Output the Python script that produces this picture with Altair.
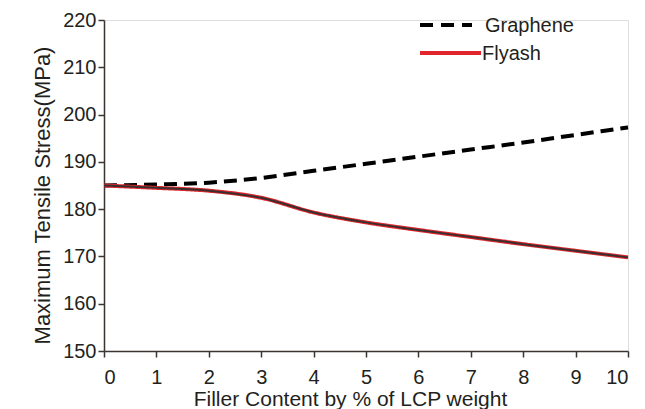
import altair as alt
import pandas as pd

filler = [0, 1, 2, 3, 4, 5, 6, 7, 8, 9, 10]
graphene = [185.0, 185.2, 185.6, 186.6, 188.1, 189.6, 191.1, 192.6, 194.1, 195.7, 197.3]
flyash = [185.0, 184.5, 183.9, 182.4, 179.3, 177.2, 175.6, 174.1, 172.6, 171.2, 169.8]
series = ["Graphene", "Flyash"]
y_ticks = [150, 160, 170, 180, 190, 200, 210, 220]

rows = []
for name, vals in zip(series, [graphene, flyash]):
    for x, y in zip(filler, vals):
        rows.append({"x": x, "y": y, "series": name})
df = pd.DataFrame(rows)

FONT = "Liberation Sans"
AXC = "#3a3530"
TXT = "#231f20"
RED = "#e0262c"

xenc = alt.X("x:Q", scale=alt.Scale(domain=[0, 10], nice=False),
             axis=alt.Axis(title="Filler Content by % of LCP weight", values=filler,
                           format="d", grid=False, domainColor=AXC, tickColor=AXC,
                           tickSize=6, domainWidth=1.5, tickWidth=1.5,
                           labelFontSize=20, labelColor=TXT, labelPadding=10,
                           titleFontSize=21, titleFontWeight="normal", titleColor=TXT,
                           titleX=246, titleY=54, titleAlign="center",
                           titleBaseline="alphabetic"))
yenc = alt.Y("y:Q", scale=alt.Scale(domain=[150, 220], nice=False),
             axis=alt.Axis(title="Maximum Tensile Stress(MPa)", values=y_ticks,
                           grid=False, domainColor=AXC, tickColor=AXC,
                           tickSize=6, domainWidth=1.5, tickWidth=1.5,
                           labelFontSize=20, labelColor=TXT, labelPadding=2,
                           titleFontSize=22, titleFontWeight="normal", titleColor=TXT,
                           titleX=-62, titleY=175, titleAngle=270, titleAlign="center",
                           titleBaseline="middle"))

lines = alt.Chart(df).mark_line(interpolate="monotone", strokeWidth=4).encode(
    x=xenc, y=yenc,
    color=alt.Color("series:N", scale=alt.Scale(domain=series, range=["#000000", RED]),
                    legend=None),
    strokeDash=alt.StrokeDash("series:N", scale=alt.Scale(domain=series, range=[[13, 7], [1, 0]]),
                              legend=None),
)

core = alt.Chart(df[df.series == "Flyash"]).mark_line(
    interpolate="monotone", strokeWidth=2, color="#3a2f2f"
).encode(x="x:Q", y="y:Q")

one = pd.DataFrame({"k": [0]})
leg_dash = alt.Chart(one).mark_rule(color="#000000", strokeWidth=4, strokeDash=[13, 8]).encode(
    x=alt.value(316), x2=alt.value(368), y=alt.value(5))
leg_red = alt.Chart(one).mark_rule(color=RED, strokeWidth=4).encode(
    x=alt.value(316), x2=alt.value(377), y=alt.value(33))
leg_text1 = alt.Chart(pd.DataFrame({"label": [series[0]]})).mark_text(
    align="left", baseline="alphabetic", fontSize=20, font=FONT, color=TXT).encode(
    text="label:N", x=alt.value(381), y=alt.value(12))
leg_text2 = alt.Chart(pd.DataFrame({"label": [series[1]]})).mark_text(
    align="left", baseline="alphabetic", fontSize=20, font=FONT, color=TXT).encode(
    text="label:N", x=alt.value(378), y=alt.value(40))

chart = (lines + core + leg_dash + leg_red + leg_text1 + leg_text2).properties(
    width=524, height=331,
    autosize=alt.AutoSizeParams(type="none"),
    padding={"left": 96, "top": 12, "right": 9, "bottom": 62},
).configure_view(stroke=None).configure(font=FONT)

chart.save("out.html", embed_options={"renderer": "svg", "actions": False})
